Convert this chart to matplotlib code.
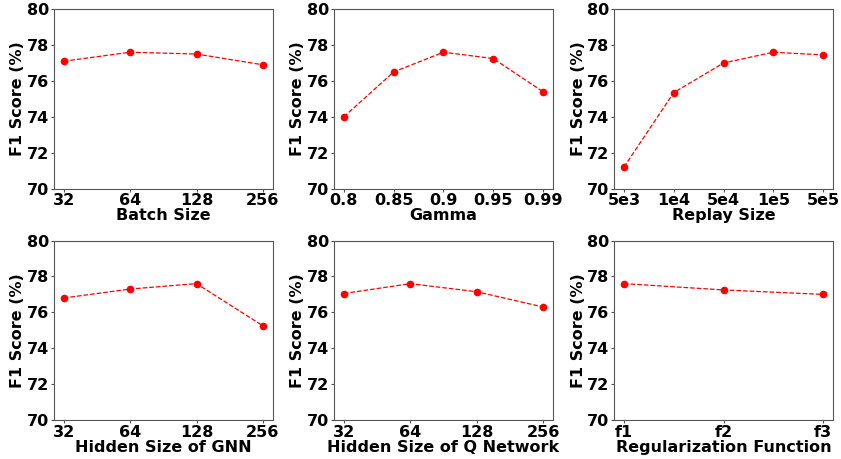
import matplotlib
matplotlib.use("Agg")
import matplotlib.pyplot as plt

batch_labels = ['32', '64', '128', '256']
batch_f1 = [77.1, 77.6, 77.5, 76.9]

gamma_labels = ['0.8', '0.85', '0.9', '0.95', '0.99']
gamma_f1 = [74.0, 76.5, 77.6, 77.25, 75.4]

replay_labels = ['5e3', '1e4', '5e4', '1e5', '5e5']
replay_f1 = [71.2, 75.35, 77.0, 77.6, 77.45]

gnn_labels = ['32', '64', '128', '256']
gnn_f1 = [76.8, 77.3, 77.6, 75.25]

qnet_labels = ['32', '64', '128', '256']
qnet_f1 = [77.05, 77.6, 77.15, 76.3]

reg_labels = ['f1', 'f2', 'f3']
reg_f1 = [77.6, 77.25, 77.0]

panels = [
    (batch_labels, batch_f1, 'Batch Size'),
    (gamma_labels, gamma_f1, 'Gamma'),
    (replay_labels, replay_f1, 'Replay Size'),
    (gnn_labels, gnn_f1, 'Hidden Size of GNN'),
    (qnet_labels, qnet_f1, 'Hidden Size of Q Network'),
    (reg_labels, reg_f1, 'Regularization Function'),
]

plt.rcParams['font.weight'] = 'bold'

fig, axes = plt.subplots(nrows=2, ncols=3, figsize=(8.41, 4.59), dpi=100)
fig.subplots_adjust(left=0.064, right=0.9905, top=0.980, bottom=0.085, wspace=0.279, hspace=0.29)

for ax, (labels, vals, xlabel) in zip(axes.flat, panels):
    xs = list(range(len(labels)))
    ax.plot(xs, vals, 'o--', color='red', markersize=4.5, linewidth=0.9)
    ax.set_xticks(xs)
    ax.set_xticklabels(labels, fontweight='bold', fontsize=11.5)
    ax.set_ylim(70, 80)
    ax.set_yticks([70, 72, 74, 76, 78, 80])
    ax.set_yticklabels(['70', '72', '74', '76', '78', '80'], fontweight='bold', fontsize=11.5)
    ax.set_xlabel(xlabel, fontweight='bold', fontsize=11.5, labelpad=0)
    ax.set_ylabel('F1 Score (%)', fontweight='bold', fontsize=11.5, labelpad=1)
    ax.tick_params(length=2, pad=1.5, color='#555555')
    for sp in ax.spines.values():
        sp.set_color('#555555')

fig.savefig('out.png', dpi=100)
